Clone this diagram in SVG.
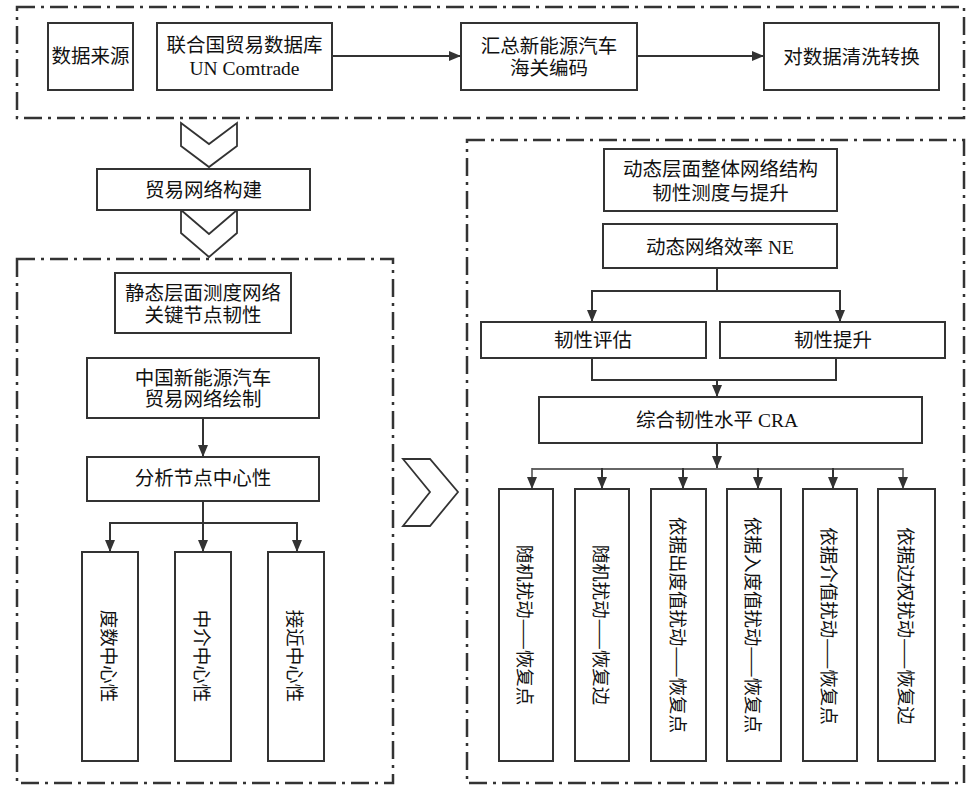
<svg xmlns="http://www.w3.org/2000/svg" width="969" height="786" viewBox="0 0 969 786">
<style>
.frame{fill:none;stroke:#333;stroke-width:2.5;stroke-dasharray:18 6 3 6}
.box{fill:#fff;stroke:#333;stroke-width:2}
.chev{fill:#fff;stroke:#333;stroke-width:1.8;stroke-linejoin:miter}
.t{font-family:"Liberation Serif","Noto Sans CJK SC",serif;font-size:19.5px;fill:#111;text-anchor:middle;dominant-baseline:central}
.v{font-family:"Noto Sans CJK SC",sans-serif;font-size:18.5px;fill:#111;text-anchor:middle;dominant-baseline:central}
.ln{fill:none;stroke:#333;stroke-width:2}
.ar{fill:none;stroke:#333;stroke-width:2;marker-end:url(#ah)}
</style>
<defs>
<marker id="ah" viewBox="0 0 12 10" refX="12" refY="5" markerWidth="12" markerHeight="10" markerUnits="userSpaceOnUse" orient="auto">
<path d="M0,0 L12,5 L0,10 z" fill="#333"/>
</marker>
</defs>
<rect width="969" height="786" fill="#fff"/>

<g id="frames">
<rect class="frame" x="17" y="7" width="947" height="111"/>
<rect class="frame" x="17" y="259" width="376" height="524"/>
<rect class="frame" x="467" y="140" width="497" height="643"/>
</g>

<g id="chevrons">
<polygon class="chev" points="181,123 209,144 237,123 237,146 209,167 181,146"/>
<polygon class="chev" points="181,210 209,234 237,210 237,233 209,257 181,233"/>
<polygon class="chev" points="403,459 430,459 458,492 430,526 403,526 430,492"/>
</g>

<g id="connectors">
<line class="ar" x1="332" y1="56" x2="461" y2="56"/>
<line class="ar" x1="637" y1="56" x2="764" y2="56"/>
<line class="ar" x1="203" y1="418" x2="203" y2="457"/>
<line class="ln" x1="203" y1="501" x2="203" y2="523"/>
<line class="ln" x1="110" y1="523" x2="297" y2="523"/>
<line class="ar" x1="110" y1="522" x2="110" y2="552"/>
<line class="ar" x1="203" y1="522" x2="203" y2="552"/>
<line class="ar" x1="297" y1="522" x2="297" y2="552"/>
<line class="ln" x1="717" y1="268" x2="717" y2="291"/>
<line class="ln" x1="592" y1="291" x2="840" y2="291"/>
<line class="ar" x1="592" y1="290" x2="592" y2="322"/>
<line class="ar" x1="840" y1="290" x2="840" y2="322"/>
<polyline class="ln" points="592,358 592,380 836,380 836,358"/>
<line class="ar" x1="717" y1="380" x2="717" y2="397"/>
<line class="ar" x1="717" y1="443" x2="717" y2="468"/>
<line class="ln" x1="532" y1="469" x2="903" y2="469" style="stroke-width:1.6"/>
<line class="ar" x1="532" y1="468" x2="532" y2="489" style="stroke:#555;stroke-width:1.6"/>
<line class="ar" x1="602" y1="468" x2="602" y2="489"/>
<line class="ar" x1="683" y1="468" x2="683" y2="489"/>
<line class="ar" x1="758" y1="468" x2="758" y2="489"/>
<line class="ar" x1="833" y1="468" x2="833" y2="489"/>
<line class="ar" x1="903" y1="468" x2="903" y2="489" style="stroke:#555;stroke-width:1.6"/>
</g>

<g id="n-source">
<rect class="box" x="48" y="23" width="85" height="67"/>
<text class="t" x="90.5" y="56">数据来源</text>
</g>
<g id="n-comtrade">
<rect class="box" x="157" y="23" width="175" height="67"/>
<text class="t" x="244.5" y="45">联合国贸易数据库</text>
<text class="t" x="244.5" y="68">UN Comtrade</text>
</g>
<g id="n-hs">
<rect class="box" x="461" y="23" width="176" height="67"/>
<text class="t" x="549" y="46">汇总新能源汽车</text>
<text class="t" x="549" y="68">海关编码</text>
</g>
<g id="n-clean">
<rect class="box" x="764" y="23" width="175" height="67"/>
<text class="t" x="851.5" y="57">对数据清洗转换</text>
</g>

<g id="n-build">
<rect class="box" x="97" y="169" width="213" height="41"/>
<text class="t" x="203.5" y="190">贸易网络构建</text>
</g>

<g id="n-static">
<rect class="box" x="115" y="273" width="176" height="60"/>
<text class="t" x="203" y="293">静态层面测度网络</text>
<text class="t" x="203" y="315">关键节点韧性</text>
</g>
<g id="n-draw">
<rect class="box" x="87" y="358" width="232" height="60"/>
<text class="t" x="203" y="378">中国新能源汽车</text>
<text class="t" x="203" y="399">贸易网络绘制</text>
</g>
<g id="n-analyze">
<rect class="box" x="87" y="457" width="232" height="44"/>
<text class="t" x="203" y="478">分析节点中心性</text>
</g>
<g id="n-degree">
<rect class="box" x="82" y="552" width="56" height="209"/>
<text class="v" transform="translate(110,656) rotate(90)">度数中心性</text>
</g>
<g id="n-between">
<rect class="box" x="175" y="552" width="56" height="209"/>
<text class="v" transform="translate(203,656) rotate(90)">中介中心性</text>
</g>
<g id="n-close">
<rect class="box" x="268" y="552" width="56" height="209"/>
<text class="v" transform="translate(296,656) rotate(90)">接近中心性</text>
</g>

<g id="n-dynamic">
<rect class="box" x="604" y="149" width="233" height="62"/>
<text class="t" x="720.5" y="169">动态层面整体网络结构</text>
<text class="t" x="720.5" y="193">韧性测度与提升</text>
</g>
<g id="n-ne">
<rect class="box" x="603" y="224" width="234" height="44"/>
<text class="t" x="720" y="247">动态网络效率 NE</text>
</g>
<g id="n-eval">
<rect class="box" x="481" y="322" width="225" height="36"/>
<text class="t" x="593" y="340">韧性评估</text>
</g>
<g id="n-improve">
<rect class="box" x="720" y="322" width="225" height="36"/>
<text class="t" x="833" y="340">韧性提升</text>
</g>
<g id="n-cra">
<rect class="box" x="539" y="397" width="383" height="46"/>
<text class="t" x="717" y="420">综合韧性水平 CRA</text>
</g>

<g id="n-r1">
<rect class="box" x="499" y="489" width="54" height="272"/>
<text class="v" transform="translate(526,625) rotate(90)">随机扰动——恢复点</text>
</g>
<g id="n-r2">
<rect class="box" x="575" y="489" width="54" height="272"/>
<text class="v" transform="translate(602,625) rotate(90)">随机扰动——恢复边</text>
</g>
<g id="n-r3">
<rect class="box" x="651" y="489" width="55" height="272"/>
<text class="v" transform="translate(678.5,625) rotate(90)">依据出度值扰动——恢复点</text>
</g>
<g id="n-r4">
<rect class="box" x="727" y="489" width="54" height="272"/>
<text class="v" transform="translate(754,625) rotate(90)">依据入度值扰动——恢复点</text>
</g>
<g id="n-r5">
<rect class="box" x="803" y="489" width="54" height="272"/>
<text class="v" transform="translate(830,626) rotate(90)">依据介值扰动——恢复点</text>
</g>
<g id="n-r6">
<rect class="box" x="878" y="489" width="57" height="272"/>
<text class="v" transform="translate(906.5,626) rotate(90)">依据边权扰动——恢复边</text>
</g>
</svg>
